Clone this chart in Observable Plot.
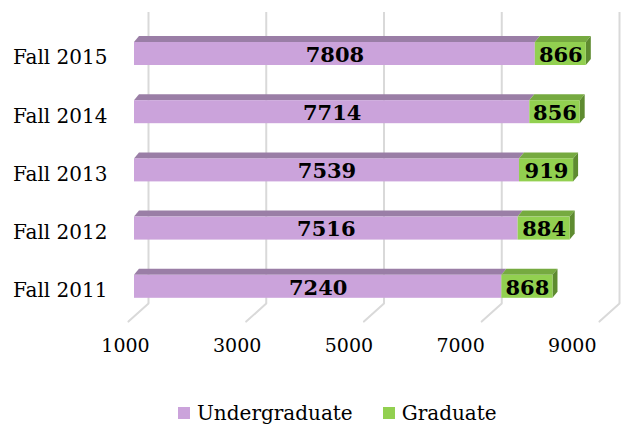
<!DOCTYPE html>
<html><head><meta charset="utf-8">
<script src="https://cdn.jsdelivr.net/npm/d3@7"></script>
<script src="https://cdn.jsdelivr.net/npm/@observablehq/plot@0.6"></script>
<style>
body{margin:0;background:#fff;font-family:"DejaVu Serif",serif;}
#wrap{position:relative;width:631px;height:425px;overflow:hidden;}
#legend{position:absolute;left:178px;top:400px;display:flex;align-items:center;font-size:20px;color:#000;line-height:26px;}
#legend .sw{display:inline-block;width:12px;height:12px;margin-right:7px;}
#legend .item{display:flex;align-items:center;margin-right:30px;}
</style>
</head><body>
<div id="wrap"><div id="chart"></div><div id="legend"></div></div>
<script>
const categories = ["Fall 2015","Fall 2014","Fall 2013","Fall 2012","Fall 2011"];
const undergraduate = [7808,7714,7539,7516,7240];
const graduate = [866,856,919,884,868];
const xTicks = [1000,3000,5000,7000,9000];
const seriesNames = ["Undergraduate","Graduate"];

const colors = {
  uFront:"#cba3db", uTop:"#9a7ea6",
  gFront:"#92d050", gTop:"#76aa40", gSide:"#5e8b30"
};

const xMin = xTicks[0];
const rows = categories.map((c,i)=>({cat:c, u:undergraduate[i], g:graduate[i]}));
const uSeg = rows.map(d=>({cat:d.cat, x1:xMin, x2:d.u, v:d.u}));
const gSeg = rows.map(d=>({cat:d.cat, x1:d.u, x2:d.u+d.g, v:d.g}));

// perspective factor for the front edge of the floor (tick labels)
const floorScale = 0.9486, floorShift = -152.9;
const frontX = v => xMin + floorShift + (v - xMin)*floorScale;

const lineShape = {draw(context, l){ context.moveTo(0,0); context.lineTo(0,-l); }};

const chart = Plot.plot({
  width:631, height:390,
  marginLeft:134, marginRight:26, marginTop:12, marginBottom:87,
  style:{fontFamily:"'DejaVu Serif', serif", background:"#fff", color:"#000"},
  x:{domain:[xTicks[0], xTicks[xTicks.length-1]], axis:null},
  y:{domain:categories, range:[12.9,326.9], paddingInner:0.605, paddingOuter:0.5, round:false, axis:null, label:null},
  marks:[
    Plot.ruleX(xTicks, {x:d=>d, dx:14, stroke:"#d9d9d9", strokeWidth:2}),
    Plot.vector(xTicks, {x:d=>d, dx:14, frameAnchor:"bottom", anchor:"start", length:27, rotate:228, shape:lineShape, stroke:"#d9d9d9", strokeWidth:2}),
    Plot.barX(uSeg, {x1:"x1", x2:"x2", y:"cat", fill:colors.uTop, dy:-6, insetBottom:17}),
    Plot.barX(gSeg, {x1:"x1", x2:"x2", y:"cat", fill:colors.gTop, dy:-6, insetBottom:17}),
    Plot.barX(gSeg, {x1:"x2", x2:"x2", y:"cat", fill:colors.gSide, insetRight:-5}),
    Plot.barX(uSeg, {x1:"x1", x2:"x2", y:"cat", fill:colors.uFront}),
    Plot.barX(gSeg, {x1:"x1", x2:"x2", y:"cat", fill:colors.gFront}),
    Plot.text(uSeg, {x:d=>(d.x1+d.x2)/2, y:"cat", text:d=>String(d.v), fontWeight:"bold", fontSize:21, fill:"#000", dy:1}),
    Plot.text(gSeg, {x:d=>(d.x1+d.x2)/2, y:"cat", text:d=>String(d.v), fontWeight:"bold", fontSize:21, fill:"#000", dy:1}),
    Plot.text(xTicks, {x:d=>frontX(d), frameAnchor:"bottom", dy:48, text:d=>String(d), fontSize:19, fill:"#000"}),
    Plot.axisY({tickSize:0, tickPadding:27, fontSize:20, dy:4, fill:"#000", label:null})
  ]
});
document.getElementById("chart").appendChild(chart);

const svg = d3.select(chart);
[colors.uTop, colors.gTop].forEach(c=>{
  svg.selectAll(`g[fill="${c}"] rect`)
    .style("transform-box","fill-box").style("transform-origin","0% 100%").style("transform","skewX(-39.8deg)");
});
svg.selectAll(`g[fill="${colors.gSide}"] rect`)
  .style("transform-box","fill-box").style("transform-origin","0% 0%").style("transform","skewY(-50.2deg)");

const legend = d3.select("#legend");
[[seriesNames[0], colors.uFront],[seriesNames[1], colors.gFront]].forEach(([n,c])=>{
  const it = legend.append("span").attr("class","item");
  it.append("span").attr("class","sw").style("background",c);
  it.append("span").text(n);
});
</script>
</body></html>
